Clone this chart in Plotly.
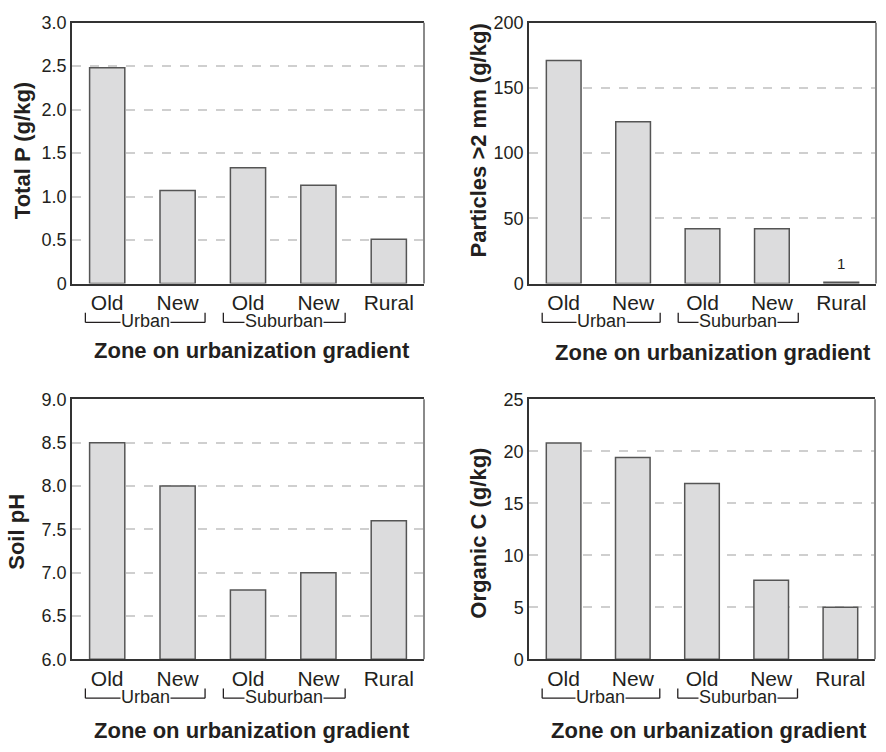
import plotly.graph_objects as go

# Zones along the urbanization gradient
zones = ["Old", "New", "Old", "New", "Rural"]
groups = ["Urban", "Suburban"]

# Soil properties by zone
total_p = [2.48, 1.07, 1.33, 1.13, 0.51]          # g/kg
particles_2mm = [171, 124, 42, 42, 1]             # g/kg
soil_ph = [8.5, 8.0, 6.8, 7.0, 7.6]
organic_c = [20.8, 19.4, 16.9, 7.6, 5.0]          # g/kg

# Y-axis ticks for each panel
p_ticks = [0, 0.5, 1.0, 1.5, 2.0, 2.5, 3.0]
p_ticktext = ["0", "0.5", "1.0", "1.5", "2.0", "2.5", "3.0"]
part_ticks = [0, 50, 100, 150, 200]
ph_ticks = [6.0, 6.5, 7.0, 7.5, 8.0, 8.5, 9.0]
ph_ticktext = ["6.0", "6.5", "7.0", "7.5", "8.0", "8.5", "9.0"]
c_ticks = [0, 5, 10, 15, 20, 25]

TEXT = "#231f20"
FONT = "Liberation Sans, Arial, Helvetica, sans-serif"
NARROW = "Liberation Sans Narrow, Arial Narrow, Liberation Sans, Arial, sans-serif"

W, H = 886, 752

def px_x(v):
    return v / W

def px_y(v):
    return 1 - v / H

# Panel rectangles in pixels: (left, top, right, bottom)
panels = [
    dict(rect=(72, 13, 424, 281), values=total_p, ticks=p_ticks, ticktext=p_ticktext,
         yrange=[0, 3.0], ytitle="Total P (g/kg)", ytitle_pos=(22, 145), xtitle_pos=(252, 350)),
    dict(rect=(529, 13, 876, 281), values=particles_2mm, ticks=part_ticks,
         ticktext=[str(t) for t in part_ticks], yrange=[0, 200],
         ytitle="Particles >2 mm (g/kg)", ytitle_pos=(478, 134), xtitle_pos=(713, 352)),
    dict(rect=(72, 400, 424, 667), values=soil_ph, ticks=ph_ticks, ticktext=ph_ticktext,
         yrange=[6.0, 9.0], ytitle="Soil pH", ytitle_pos=(17, 536), xtitle_pos=(252, 740)),
    dict(rect=(529, 400, 875, 667), values=organic_c, ticks=c_ticks,
         ticktext=[str(t) for t in c_ticks], yrange=[0, 25],
         ytitle="Organic C (g/kg)", ytitle_pos=(479, 537), xtitle_pos=(709, 740)),
]

# Bracket spans (in category units) for the zone groups
group_spans = [(-0.31, 1.39), (1.65, 3.38)]

fig = go.Figure()
layout = dict(
    width=W, height=H,
    margin=dict(l=0, r=0, t=0, b=0),
    paper_bgcolor="white", plot_bgcolor="white",
    showlegend=False,
    font=dict(family=FONT, color=TEXT),
)
shapes = []
annotations = []

for i, p in enumerate(panels, start=1):
    sfx = "" if i == 1 else str(i)
    xa, ya = "x" + sfx, "y" + sfx
    left, top, right, bottom = p["rect"]
    floor = p["yrange"][0]
    # bars rise from the axis floor to each value
    fig.add_trace(go.Bar(
        x=list(range(len(zones))), y=[v - floor for v in p["values"]], base=floor,
        xaxis=xa, yaxis=ya, width=0.5,
        marker=dict(color="#dcdcdd", line=dict(color="#555555", width=1.5)),
        hoverinfo="skip",
    ))

    layout["xaxis" + sfx] = dict(
        domain=[px_x(left), px_x(right)], anchor=ya,
        range=[-0.5, len(zones) - 0.5],
        tickvals=list(range(len(zones))), ticktext=zones,
        tickfont=dict(size=21, color=TEXT, family=FONT),
        showgrid=False, zeroline=False, ticks="",
        showline=True, linecolor="#333333", linewidth=1.5, mirror=True,
    )
    layout["yaxis" + sfx] = dict(
        domain=[px_y(bottom), px_y(top)], anchor=xa,
        range=p["yrange"],
        tickvals=p["ticks"], ticktext=p["ticktext"],
        tickfont=dict(size=18, color=TEXT, family=FONT),
        showgrid=True, gridcolor="#cfcfcf", gridwidth=1.5, griddash="dash",
        zeroline=False, ticks="",
        showline=True, linecolor="#333333", linewidth=1.5, mirror=False,
    )
    # lighter right-hand border of the frame
    shapes.append(dict(type="line", xref=xa + " domain", yref=ya + " domain",
                       x0=1, x1=1, y0=0, y1=1, line=dict(color="#8a8a8a", width=2)))

    # y-axis title
    annotations.append(dict(
        text="<b>%s</b>" % p["ytitle"], xref="paper", yref="paper",
        x=px_x(p["ytitle_pos"][0]), y=px_y(p["ytitle_pos"][1]),
        xanchor="center", yanchor="middle", textangle=-90, showarrow=False,
        font=dict(size=22, color=TEXT, family=FONT),
    ))
    # x-axis title
    annotations.append(dict(
        text="<b>Zone on urbanization gradient</b>", xref="paper", yref="paper",
        x=px_x(p["xtitle_pos"][0]), y=px_y(p["xtitle_pos"][1]),
        xanchor="center", yanchor="middle", showarrow=False,
        font=dict(size=22, color=TEXT, family=FONT),
    ))

    # group brackets under the tick labels
    ph = bottom - top
    y_line = -40 / ph
    y_tick = -30 / ph
    for (x0, x1), g in zip(group_spans, groups):
        line = dict(color="#231f20", width=1.3)
        shapes.append(dict(type="line", xref=xa, yref=ya + " domain",
                           x0=x0, x1=x1, y0=y_line, y1=y_line, line=line))
        shapes.append(dict(type="line", xref=xa, yref=ya + " domain",
                           x0=x0, x1=x0, y0=y_line, y1=y_tick, line=line))
        shapes.append(dict(type="line", xref=xa, yref=ya + " domain",
                           x0=x1, x1=x1, y0=y_line, y1=y_tick, line=line))
        annotations.append(dict(
            text=g, xref=xa, yref=ya + " domain",
            x=(x0 + x1) / 2, y=y_line, xanchor="center", yanchor="middle",
            yshift=1, showarrow=False, bgcolor="white", borderpad=0,
            font=dict(size=18, color=TEXT, family=NARROW),
        ))

# Value label above the near-zero rural bar
annotations.append(dict(
    text=str(particles_2mm[4]), xref="x2", yref="y2",
    x=4, y=particles_2mm[4], yanchor="bottom", yshift=8, showarrow=False,
    font=dict(size=15, color=TEXT, family=FONT),
))

layout["shapes"] = shapes
layout["annotations"] = annotations
fig.update_layout(**layout)
fig.write_html("out.html")
